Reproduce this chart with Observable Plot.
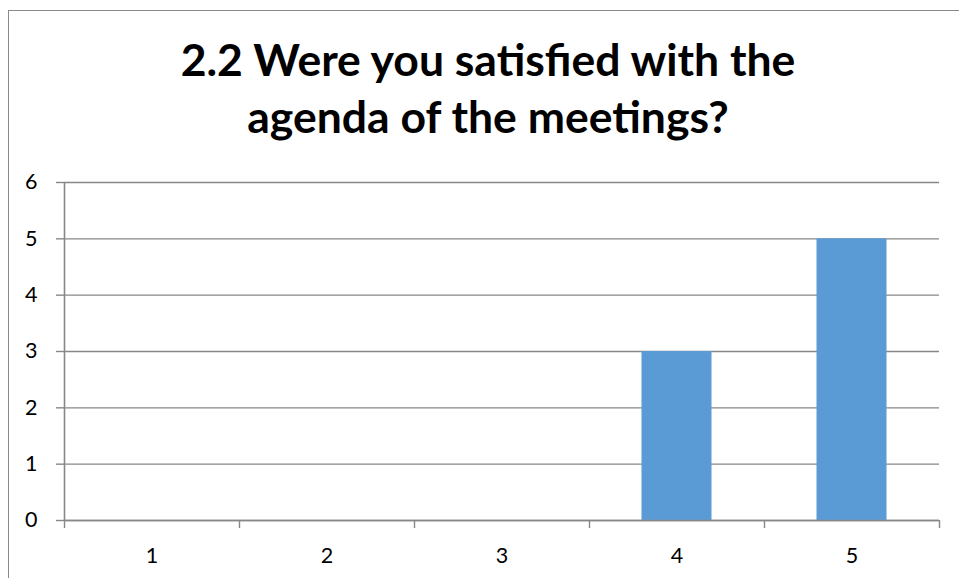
<!DOCTYPE html>
<html>
<head>
<meta charset="utf-8">
<script src="https://cdn.jsdelivr.net/npm/d3@7"></script>
<script src="https://cdn.jsdelivr.net/npm/@observablehq/plot@0.6"></script>
<style>
  html, body { margin: 0; padding: 0; overflow: hidden; background: white; }
  #wrap { position: relative; width: 959px; height: 578px; }
  #border { position: absolute; left: 8px; top: 10px; width: 1100px; height: 800px; border: 1.5px solid #8a8a8a; box-sizing: border-box; }
  #title { position: absolute; left: 0; top: 30px; width: 976px; text-align: center; font-family: Lato, "Open Sans", sans-serif; font-weight: bold; font-size: 44.5px; line-height: 57px; color: black; }
  #chart { position: absolute; left: 0; top: 0; }
  #chart svg text { font-family: Lato, "Open Sans", sans-serif !important; font-size: 21.5px !important; fill: black; }
</style>
</head>
<body>
<div id="wrap">
  <div id="border"></div>
  <div id="chart"></div>
  <div id="title"></div>
</div>
<script>
const titleLines = ["2.2 Were you satisfied with the", "agenda of the meetings?"];
const categories = [1, 2, 3, 4, 5];
const counts = [0, 0, 0, 3, 5];
const yTicks = [0, 1, 2, 3, 4, 5, 6];
const barColor = "#5B9BD5";
const gridColor = "#878787";

const data = categories.map((c, i) => ({cat: c, value: counts[i]}));
const boundaries = [categories[0] - 0.5, ...categories.map(c => c + 0.5)];

document.getElementById("title").innerHTML = titleLines.join("<br>");

const chart = Plot.plot({
  width: 959,
  height: 578,
  marginTop: 182,
  marginLeft: 64,
  marginRight: 20,
  marginBottom: 58,
  style: {background: "transparent", fontFamily: "Lato, 'Open Sans', sans-serif", fontSize: "21.5px", color: "black"},
  x: {domain: [boundaries[0], boundaries[boundaries.length - 1]]},
  y: {domain: [0, 6]},
  marks: [
    Plot.gridY(yTicks, {stroke: gridColor, strokeOpacity: 1, strokeWidth: 1.4}),
    Plot.rectY(data.filter(d => d.value > 0), {x1: d => d.cat - 0.2, x2: d => d.cat + 0.2, y1: 0, y2: "value", fill: barColor}),
    Plot.ruleY([0], {stroke: gridColor, strokeWidth: 1.6}),
    Plot.ruleX([boundaries[0]], {stroke: gridColor, strokeWidth: 1.6}),
    Plot.axisY({ticks: yTicks, tickSize: 8, tickPadding: 19, stroke: gridColor, strokeWidth: 1.4, fontSize: 21.5, tickFormat: d => String(d), label: null}),
    Plot.axisX({ticks: boundaries, tickSize: 8, stroke: gridColor, strokeWidth: 1.4, tickFormat: () => "", label: null}),
    Plot.axisX({ticks: categories, tickSize: 0, tickPadding: 27, fontSize: 21.5, tickFormat: d => String(d), label: null})
  ]
});
document.getElementById("chart").appendChild(chart);
</script>
</body>
</html>
